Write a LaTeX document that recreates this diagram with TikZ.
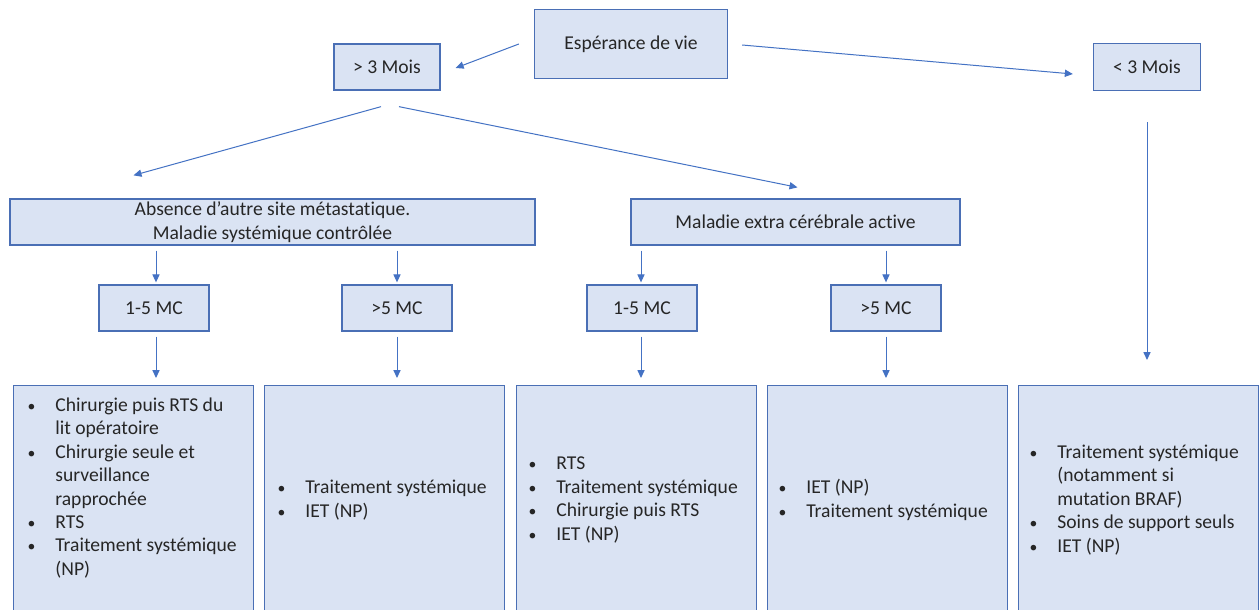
\documentclass[tikz,border=0pt]{standalone}
\usepackage{fontspec}
\setmainfont{Carlito}[Ligatures={NoCommon}]
\usetikzlibrary{arrows.meta,calc}
\definecolor{boxfill}{HTML}{DAE3F3}
\definecolor{boxline}{HTML}{4A6FB5}
\definecolor{arrcol}{HTML}{4472C4}
\definecolor{txt}{HTML}{262626}
\newcommand\bul{\makebox[0pt][r]{\scalebox{0.8}{\textbullet}\hspace{10pt}}}
\begin{document}
\begin{tikzpicture}[x=0.5pt,y=-0.5pt,
  box/.style={draw=boxline, fill=boxfill, line width=0.65pt, inner sep=0pt, align=center, text=txt,
              font=\fontsize{9.8}{11.7}\selectfont},
  conn/.style={draw=arrcol, line width=0.5pt, -{Triangle[length=4pt,width=3.6pt]}},
  bl/.style={align=left, inner sep=0pt, anchor=west, text=txt, font=\fontsize{9.8}{11.7}\selectfont}]
\useasboundingbox (0,0) rectangle (1260,610);
\clip (0,0) rectangle (1260,610);
\fill[white] (0,0) rectangle (1260,610);
% top level
\node[box, minimum width=96.5pt, minimum height=34.5pt] (esp) at (631,44) {Espérance de vie};
\node[box, minimum width=53pt, minimum height=23pt] (m3) at (387,67) {> 3 Mois};
\node[box, minimum width=53.5pt, minimum height=23.5pt] (l3) at (1147,67) {< 3 Mois};
% second level
\node[box, minimum width=262.5pt, minimum height=23pt] (abs) at (272.5,222) {Absence d’autre site métastatique.\\Maladie systémique contrôlée};
\node[box, minimum width=164.5pt, minimum height=23pt] (mal) at (795.5,222) {Maladie extra cérébrale active};
% third level
\node[box, minimum width=55pt, minimum height=23pt] (c1) at (154,308) {1-5 MC};
\node[box, minimum width=55pt, minimum height=23pt] (c2) at (397,308) {>5 MC};
\node[box, minimum width=55pt, minimum height=23pt] (c3) at (642,308) {1-5 MC};
\node[box, minimum width=55pt, minimum height=23pt] (c4) at (886,308) {>5 MC};
% bottom boxes
\node[box, minimum width=120pt, minimum height=130pt, anchor=north west] (b1) at (13,385) {};
\node[box, minimum width=120pt, minimum height=130pt, anchor=north west] (b2) at (264,385) {};
\node[box, minimum width=120pt, minimum height=130pt, anchor=north west] (b3) at (516,385) {};
\node[box, minimum width=120pt, minimum height=130pt, anchor=north west] (b4) at (767,385) {};
\node[box, minimum width=120pt, minimum height=130pt, anchor=north west] (b5) at (1018,385) {};
\node[bl] (t1) at (55,488) {\bul Chirurgie puis RTS du\\lit opératoire\\\bul Chirurgie seule et\\surveillance\\rapprochée\\\bul RTS\\\bul Traitement systémique\\(NP)};
\node[bl] (t2) at (305,500) {\bul Traitement systémique\\\bul IET (NP)};
\node[bl] (t3) at (556,500) {\bul RTS\\\bul Traitement systémique\\\bul Chirurgie puis RTS\\\bul IET (NP)};
\node[bl] (t4) at (806,500) {\bul IET (NP)\\\bul Traitement systémique};
\node[bl] (t5) at (1057,500) {\bul Traitement systémique\\(notamment si\\mutation BRAF)\\\bul Soins de support seuls\\\bul IET (NP)};
% connectors
\draw[conn] ($(esp.west)+(-15,0)$) -- ($(m3.east)+(15,1)$);
\draw[conn] ($(esp.east)+(14,1)$) -- ($(l3.west)+(-20,7)$);
\draw[conn] ($(m3.south)+(-6,16)$) -- ($(abs.north)+(-139,-23)$);
\draw[conn] ($(m3.south)+(12,16)$) -- ($(mal.north)+(2,-11)$);
\draw[conn] ($(abs.south -| c1.north)+(2,5)$) -- ($(c1.north)+(2,-2)$);
\draw[conn] ($(abs.south -| c2.north)+(0,5)$) -- ($(c2.north)+(0,-2)$);
\draw[conn] ($(mal.south -| c3.north)+(-1,5)$) -- ($(c3.north)+(-1,-2)$);
\draw[conn] ($(mal.south -| c4.north)+(0,5)$) -- ($(c4.north)+(0,-2)$);
\draw[conn] ($(c1.south)+(2,5)$) -- ($(b1.north -| c1.south)+(2,-7)$);
\draw[conn] ($(c2.south)+(0,5)$) -- ($(b2.north -| c2.south)+(0,-7)$);
\draw[conn] ($(c3.south)+(-1,5)$) -- ($(b3.north -| c3.south)+(-1,-7)$);
\draw[conn] ($(c4.south)+(0,5)$) -- ($(b4.north -| c4.south)+(0,-7)$);
\draw[conn] ($(l3.south)+(0,31)$) -- ($(b5.north -| l3.south)+(0,-25)$);
\end{tikzpicture}
\end{document}
